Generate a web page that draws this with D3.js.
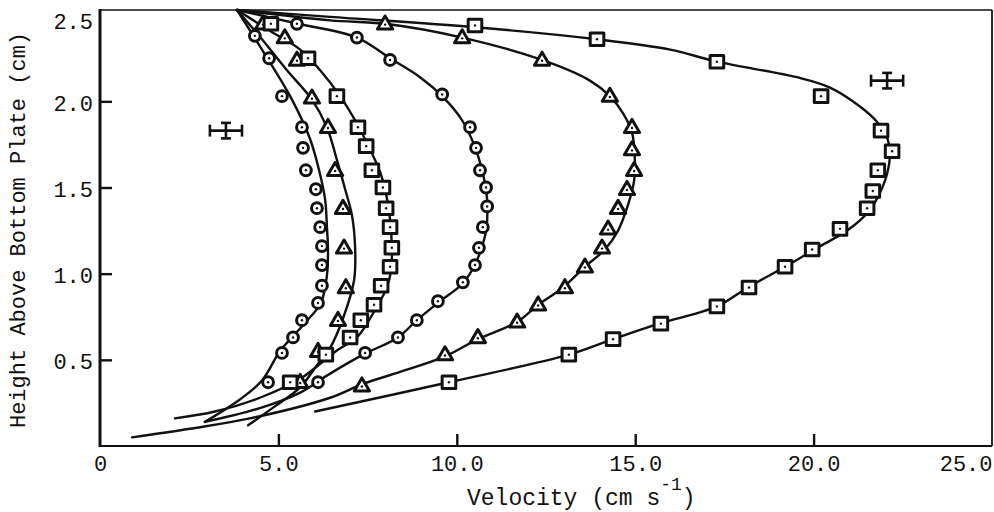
<!DOCTYPE html>
<html>
<head>
<meta charset="utf-8">
<script src="https://cdn.jsdelivr.net/npm/d3@7"></script>
<style>
  html, body { margin: 0; padding: 0; background: #fff; }
  svg { display: block; font-family: "Liberation Mono", "DejaVu Sans Mono", monospace; }
</style>
</head>
<body>
<svg id="chart" width="994" height="512"></svg>
<script>
// Axis ticks and titles
const xTicks = [0, 5, 10, 15, 20, 25];
const xTickLabels = ["0", "5.0", "10.0", "15.0", "20.0", "25.0"];
const yTicks = [0.5, 1.0, 1.5, 2.0, 2.5];
const yTickLabels = ["0.5", "1.0", "1.5", "2.0", "2.5"];
const xTitle = ["Velocity (cm s", "-1", ")"];
const yTitle = "Height Above Bottom Plate (cm)";

// Marker used for each run
const runMarkers = ["circle", "triangle", "square", "circle", "triangle", "square"];

// Measured profiles, [velocity (cm/s), height (cm)]
const run1Obs = [[4.34,2.38],[4.74,2.25],[5.10,2.03],[5.66,1.85],[5.69,1.73],[5.77,1.60],[6.05,1.49],[6.08,1.38],[6.17,1.27],[6.22,1.16],[6.22,1.05],[6.22,0.93],[6.11,0.83],[5.66,0.73],[5.41,0.63],[5.10,0.54],[4.71,0.37]];
const run2Obs = [[4.57,2.45],[5.18,2.37],[5.52,2.24],[5.94,2.02],[6.39,1.85],[6.59,1.60],[6.81,1.38],[6.84,1.15],[6.89,0.92],[6.67,0.73],[6.11,0.55],[5.61,0.37]];
const run3Obs = [[4.79,2.45],[5.83,2.25],[6.64,2.03],[7.23,1.85],[7.46,1.74],[7.62,1.60],[7.93,1.50],[8.02,1.38],[8.13,1.27],[8.18,1.15],[8.13,1.04],[7.88,0.93],[7.68,0.82],[7.31,0.73],[7.01,0.63],[6.33,0.53],[5.33,0.37]];
const run4Obs = [[5.52,2.45],[7.20,2.37],[8.13,2.24],[9.59,2.04],[10.37,1.85],[10.54,1.73],[10.65,1.60],[10.82,1.50],[10.85,1.39],[10.73,1.27],[10.62,1.15],[10.51,1.05],[10.17,0.95],[9.47,0.84],[8.88,0.73],[8.35,0.63],[7.43,0.54],[6.11,0.37]];
const run5Obs = [[7.99,2.45],[10.15,2.37],[12.39,2.24],[14.29,2.03],[14.91,1.85],[14.91,1.72],[14.97,1.60],[14.77,1.49],[14.52,1.38],[14.24,1.26],[14.07,1.15],[13.59,1.04],[13.03,0.92],[12.28,0.82],[11.69,0.72],[10.59,0.63],[9.67,0.53],[7.34,0.35]];
const run6Obs = [[10.51,2.44],[13.93,2.36],[17.29,2.23],[20.21,2.03],[21.89,1.83],[22.20,1.71],[21.80,1.60],[21.66,1.48],[21.50,1.38],[20.74,1.26],[19.96,1.14],[19.20,1.04],[18.19,0.92],[17.29,0.81],[15.72,0.71],[14.38,0.62],[13.14,0.53],[9.78,0.37]];

// Fitted profiles, [velocity (cm/s), height (cm)]
const run1Fit = [[3.84,2.53],[4.54,2.30],[5.38,2.01],[5.89,1.78],[6.14,1.60],[6.31,1.43],[6.36,1.27],[6.39,1.14],[6.36,0.99],[6.19,0.83],[5.77,0.72],[5.38,0.63],[5.04,0.55],[4.54,0.38],[3.92,0.27],[2.94,0.14]];
const run2Fit = [[3.84,2.53],[4.54,2.36],[5.24,2.18],[5.94,2.01],[6.36,1.85],[6.64,1.66],[6.87,1.49],[7.06,1.34],[7.15,1.15],[7.12,0.96],[6.81,0.74],[6.45,0.57],[6.05,0.46],[5.61,0.34],[4.90,0.23],[4.15,0.12]];
const run3Fit = [[3.84,2.53],[4.76,2.41],[5.61,2.30],[6.17,2.18],[6.73,2.03],[7.23,1.86],[7.57,1.72],[7.85,1.59],[8.02,1.46],[8.13,1.31],[8.18,1.15],[8.16,1.02],[8.02,0.91],[7.79,0.82],[7.51,0.72],[7.20,0.63],[6.61,0.55],[5.61,0.39],[4.48,0.28],[3.22,0.20],[2.10,0.16]];
const run4Fit = [[3.84,2.53],[5.55,2.45],[7.20,2.37],[8.13,2.25],[8.97,2.14],[9.59,2.03],[10.15,1.89],[10.48,1.75],[10.71,1.60],[10.85,1.43],[10.82,1.25],[10.68,1.14],[10.48,1.04],[10.15,0.94],[9.53,0.84],[8.88,0.73],[8.35,0.63],[7.37,0.53],[6.45,0.42],[5.61,0.31],[4.48,0.22],[2.94,0.14]];
const run5Fit = [[3.84,2.53],[6.45,2.47],[7.99,2.45],[10.15,2.37],[12.39,2.24],[13.73,2.12],[14.29,2.03],[14.66,1.93],[14.91,1.82],[14.99,1.66],[14.97,1.54],[14.80,1.40],[14.52,1.25],[14.15,1.14],[13.59,1.04],[12.98,0.92],[12.28,0.82],[11.69,0.72],[10.59,0.62],[9.67,0.52],[8.41,0.43],[7.37,0.36],[6.45,0.28],[4.20,0.16],[2.52,0.10],[0.90,0.05]];
const run6Fit = [[3.84,2.53],[6.45,2.49],[10.51,2.43],[13.93,2.36],[15.98,2.30],[17.29,2.23],[19.53,2.14],[20.46,2.08],[21.30,1.97],[21.78,1.88],[22.06,1.79],[22.14,1.70],[22.06,1.58],[21.86,1.47],[21.58,1.37],[20.94,1.25],[20.10,1.15],[19.20,1.04],[18.16,0.92],[17.29,0.81],[15.67,0.71],[14.38,0.62],[13.14,0.53],[9.78,0.37],[6.03,0.20]];

// Typical measurement uncertainty, shown at two places
const errorBarCentres = [[3.53, 1.83], [22.06, 2.12]];
const errorVelocity = 0.45;
const errorHeight = 0.045;

const runObs = [run1Obs, run2Obs, run3Obs, run4Obs, run5Obs, run6Obs];
const runFit = [run1Fit, run2Fit, run3Fit, run4Fit, run5Fit, run6Fit];

const svg = d3.select("#chart");
const x = d3.scaleLinear().domain([0, 25]).range([100, 992]);
const y = d3.scaleLinear().domain([0, 2.53]).range([446, 10]);
const ink = "#111";

// Frame
const frame = svg.append("g").attr("fill", "none").attr("stroke", ink);
frame.append("line").attr("x1", x(0)).attr("x2", x(25)).attr("y1", y(2.53)).attr("y2", y(2.53)).attr("stroke-width", 1.6);
frame.append("line").attr("x1", x(25)).attr("x2", x(25)).attr("y1", y(2.53)).attr("y2", y(0)).attr("stroke-width", 1.8);
frame.append("line").attr("x1", x(0)).attr("x2", x(25)).attr("y1", y(0)).attr("y2", y(0)).attr("stroke-width", 1.8);
frame.append("line").attr("x1", x(0)).attr("x2", x(0)).attr("y1", y(2.53) - 1).attr("y2", y(0) + 1).attr("stroke-width", 3);

// Axes with inward ticks
const xAxis = svg.append("g").attr("transform", `translate(0,${y(0)})`)
  .call(d3.axisBottom(x).tickValues(xTicks).tickSize(-12).tickPadding(9)
    .tickFormat((d, i) => xTickLabels[i]));
const yAxis = svg.append("g").attr("transform", `translate(${x(0)},0)`)
  .call(d3.axisLeft(y).tickValues(yTicks).tickSize(-12).tickPadding(7)
    .tickFormat((d, i) => yTickLabels[i]));

[xAxis, yAxis].forEach(a => {
  a.select(".domain").remove();
  a.selectAll(".tick line").attr("stroke", ink).attr("stroke-width", 2.4);
  a.selectAll(".tick text").attr("fill", ink).style("font-size", "22px")
    .style("font-family", "'Liberation Mono', 'DejaVu Sans Mono', monospace");
});
xAxis.selectAll(".tick line").filter(d => d === 0 || d === 25).remove();
xAxis.selectAll(".tick text").filter(d => d === 25).attr("text-anchor", "end");
yAxis.selectAll(".tick line").filter(d => d === 2.5).remove();
yAxis.selectAll(".tick text").attr("dy", "0.41em");
yAxis.selectAll(".tick text").filter(d => d === 2.5).attr("dy", "0.62em");

// Axis titles
const xt = svg.append("text").attr("x", 467).attr("y", 505).attr("fill", ink)
  .style("font-size", "23px");
xt.append("tspan").text(xTitle[0]);
xt.append("tspan").attr("dy", -15).style("font-size", "18px").text(xTitle[1]);
xt.append("tspan").attr("dy", 15).text(xTitle[2]);

svg.append("text").attr("transform", "translate(25,230) rotate(-90)")
  .attr("text-anchor", "middle").attr("fill", ink).style("font-size", "22px")
  .text(yTitle);

// Fitted curves
const line = d3.line().x(d => x(d[0])).y(d => y(d[1])).curve(d3.curveCatmullRom.alpha(0.5));
svg.append("g").selectAll("path").data(runFit).join("path")
  .attr("d", line).attr("fill", "none").attr("stroke", ink)
  .attr("stroke-width", 2.4).attr("stroke-linejoin", "round").attr("stroke-linecap", "round");

// Observations
const marks = svg.append("g").attr("stroke", ink).attr("stroke-width", 3)
  .attr("stroke-linejoin", "round").attr("fill", "#fff");
runObs.forEach((obs, i) => {
  const kind = runMarkers[i];
  obs.forEach(d => {
    const cx = x(d[0]), cy = y(d[1]);
    if (kind === "circle") {
      marks.append("circle").attr("cx", cx).attr("cy", cy).attr("r", 5.4);
    } else if (kind === "square") {
      marks.append("rect").attr("x", cx - 6.8).attr("y", cy - 6.3).attr("width", 13.6).attr("height", 12.6);
    } else {
      marks.append("path").attr("d", `M${cx},${cy - 7.8}L${cx + 7.6},${cy + 5.2}L${cx - 7.6},${cy + 5.2}Z`);
    }
    marks.append("circle").attr("cx", cx).attr("cy", kind === "triangle" ? cy + 0.8 : cy)
      .attr("r", 1.2).attr("fill", ink).attr("stroke", "none");
  });
});

// Error bars
const eb = svg.append("g").attr("stroke", ink).attr("stroke-width", 2.6).attr("fill", "none");
errorBarCentres.forEach(([v, h]) => {
  const x0 = x(v - errorVelocity), x1 = x(v + errorVelocity), cx = x(v);
  const cy = y(h), y0 = y(h + errorHeight), y1 = y(h - errorHeight);
  eb.append("line").attr("x1", x0).attr("x2", x1).attr("y1", cy).attr("y2", cy);
  eb.append("line").attr("x1", x0).attr("x2", x0).attr("y1", cy - 6).attr("y2", cy + 6);
  eb.append("line").attr("x1", x1).attr("x2", x1).attr("y1", cy - 6).attr("y2", cy + 6);
  eb.append("line").attr("x1", cx).attr("x2", cx).attr("y1", y0).attr("y2", y1);
  eb.append("line").attr("x1", cx - 5).attr("x2", cx + 5).attr("y1", y0).attr("y2", y0);
  eb.append("line").attr("x1", cx - 5).attr("x2", cx + 5).attr("y1", y1).attr("y2", y1);
});
</script>
</body>
</html>
